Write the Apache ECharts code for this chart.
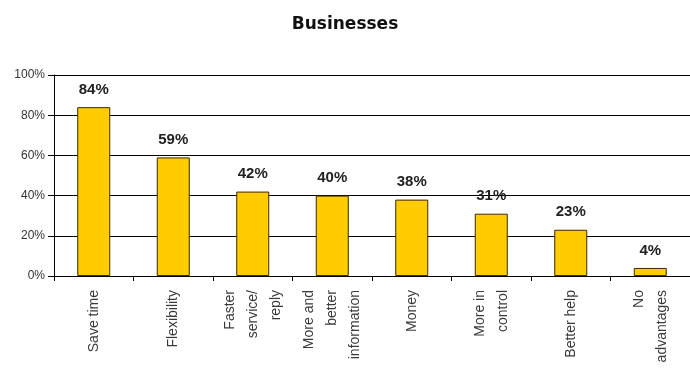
<!DOCTYPE html>
<html>
<head>
<meta charset="utf-8">
<script src="https://cdn.jsdelivr.net/npm/echarts@6/dist/echarts.min.js"></script>
<style>
  html, body { margin: 0; padding: 0; background: #fff; }
  #chart { width: 690px; height: 381px; }
</style>
</head>
<body>
<div id="chart"></div>
<script>
// Advantages reported by businesses (percent of respondents)
const categories = [
  'Save time',
  'Flexibility',
  'Faster\nservice/\nreply',
  'More and\nbetter\ninformation',
  'Money',
  'More in\ncontrol',
  'Better help',
  'No\nadvantages'
];
const shares = [84, 59, 42, 40, 38, 31, 23, 4];
const yTicks = [0, 20, 40, 60, 80, 100];

const chart = echarts.init(document.getElementById('chart'));
chart.setOption({
  animation: false,
  backgroundColor: '#ffffff',
  title: {
    text: 'Businesses',
    left: 'center',
    top: 11,
    textStyle: { fontFamily: 'DejaVu Sans', fontSize: 17, fontWeight: 'bold', color: '#111' }
  },
  grid: { left: 54, right: 0, top: 75, bottom: 105, containLabel: false },
  xAxis: {
    type: 'category',
    data: categories,
    axisLine: { lineStyle: { color: '#000', width: 1 } },
    axisTick: { show: true, alignWithLabel: false, length: 5, lineStyle: { color: '#000' } },
    axisLabel: {
      rotate: 90,
      interval: 0,
      margin: 14,
      fontFamily: 'Liberation Sans',
      fontSize: 14,
      lineHeight: 23,
      color: '#3a3a3a'
    }
  },
  yAxis: {
    type: 'value',
    min: 0,
    max: 100,
    interval: 20,
    axisLine: { show: true, lineStyle: { color: '#000', width: 1 } },
    axisTick: { show: true, length: 6, lineStyle: { color: '#000' } },
    splitLine: { show: true, lineStyle: { color: '#000', width: 1 } },
    axisLabel: {
      margin: 9,
      fontFamily: 'Liberation Sans',
      fontSize: 12,
      color: '#333',
      formatter: v => yTicks.includes(v) ? v + '%' : ''
    }
  },
  series: [{
    type: 'bar',
    data: shares,
    barWidth: 33,
    itemStyle: { color: '#FFCC00', borderColor: '#3a2a00', borderWidth: 1 },
    label: {
      show: true,
      position: 'top',
      distance: 10,
      formatter: p => p.value + '%',
      fontFamily: 'Liberation Sans',
      fontSize: 15,
      fontWeight: 'bold',
      color: '#222'
    }
  }]
});
</script>
</body>
</html>
